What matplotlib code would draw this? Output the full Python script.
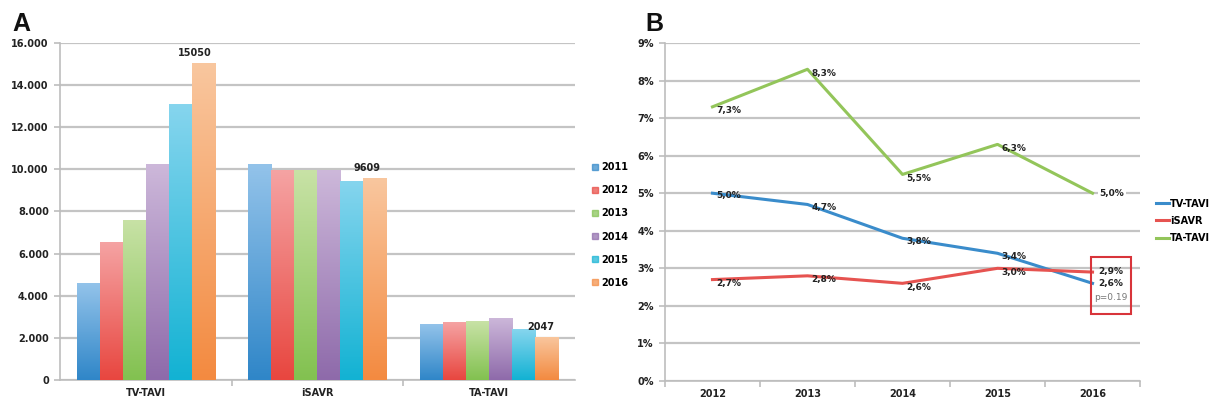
import numpy as np
import matplotlib.pyplot as plt
from matplotlib.lines import Line2D
from matplotlib.patches import Rectangle
from matplotlib.colors import LinearSegmentedColormap

# panel A data
procedures = ['TV-TAVI', 'iSAVR', 'TA-TAVI']
years_a = ['2011', '2012', '2013', '2014', '2015', '2016']
counts_2011 = [4600, 10250, 2650]
counts_2012 = [6550, 9950, 2750]
counts_2013 = [7600, 9950, 2800]
counts_2014 = [10250, 9950, 2950]
counts_2015 = [13100, 9450, 2400]
counts_2016 = [15050, 9609, 2047]
a_yticks = [0, 2000, 4000, 6000, 8000, 10000, 12000, 14000, 16000]
a_yticklabels = ['0', '2.000', '4.000', '6.000', '8.000', '10.000', '12.000', '14.000', '16.000']

# panel B data
years_b = ['2012', '2013', '2014', '2015', '2016']
mort_tv = [5.0, 4.7, 3.8, 3.4, 2.6]
mort_isavr = [2.7, 2.8, 2.6, 3.0, 2.9]
mort_ta = [7.3, 8.3, 5.5, 6.3, 5.0]

# bar colours: (dark bottom, light top)
bar_cols = [('#2f86c8', '#93c3ea'), ('#e8463f', '#f5a3a3'), ('#82c150', '#c8e2a6'),
            ('#8e6aaa', '#cdb8da'), ('#12b2d3', '#86d5ee'), ('#f38a40', '#f9c79f')]
line_cols = {'TV-TAVI': '#3a8ccb', 'iSAVR': '#e65350', 'TA-TAVI': '#93c55a'}
grid_col = '#c4c4c4'
txt_col = '#222222'

fig = plt.figure(figsize=(12.21, 4.09), dpi=100)
ax_a = fig.add_axes([0.0491, 0.0709, 0.4218, 0.824])
ax_b = fig.add_axes([0.5446, 0.0685, 0.3891, 0.8264])

# ---- panel A ----
all_counts = [counts_2011, counts_2012, counts_2013, counts_2014, counts_2015, counts_2016]
x = np.arange(len(procedures))
w = 0.134
grad = np.linspace(0, 1, 256).reshape(-1, 1)
for i, vals in enumerate(all_counts):
    offs = x + (i - 2.5) * w
    bars = ax_a.bar(offs, vals, width=w, color=bar_cols[i][0], zorder=2, label=years_a[i])
    cmap = LinearSegmentedColormap.from_list('g%d' % i, [bar_cols[i][0], bar_cols[i][1]])
    for b in bars:
        im = ax_a.imshow(grad, cmap=cmap, aspect='auto', origin='lower', zorder=3,
                         extent=(b.get_x(), b.get_x() + b.get_width(), 0, b.get_height()))
        im.set_clip_path(b)

ax_a.set_xlim(-0.5, 2.5)
ax_a.set_ylim(0, 16000)
ax_a.set_yticks(a_yticks)
ax_a.set_yticklabels(a_yticklabels)
ax_a.set_xticks(x)
ax_a.set_xticklabels(procedures)
ax_a.set_xticks([0.5, 1.5], minor=True)
ax_a.yaxis.grid(True, color=grid_col, lw=1.6, zorder=0)
ax_a.set_axisbelow(True)

# value labels on 2016 bars
ax_a.annotate('15050', (x[0] + 2.5 * w, counts_2016[0]), xytext=(-6, 5), textcoords='offset points',
              ha='center', fontsize=7, fontweight='bold', color=txt_col)
ax_a.annotate('9609', (x[1] + 2.5 * w, counts_2016[1]), xytext=(-6, 5), textcoords='offset points',
              ha='center', fontsize=7, fontweight='bold', color=txt_col)
ax_a.annotate('2047', (x[2] + 2.5 * w, counts_2016[2]), xytext=(-4, 5), textcoords='offset points',
              ha='center', fontsize=7, fontweight='bold', color=txt_col)

handles = [Line2D([], [], marker='s', ls='', ms=4, color=bar_cols[i][0], alpha=0.7) for i in range(6)]
fig.legend(handles, years_a, loc='upper left', bbox_to_anchor=(0.478, 0.625), frameon=False,
           fontsize=7, handlelength=0.6, handletextpad=0.3, labelspacing=1.35,
           prop={'weight': 'bold', 'size': 7})

# ---- panel B ----
xb = np.arange(len(years_b))
ax_b.plot(xb, mort_tv, color=line_cols['TV-TAVI'], lw=2.2, label='TV-TAVI', zorder=3)
ax_b.plot(xb, mort_isavr, color=line_cols['iSAVR'], lw=2.2, label='iSAVR', zorder=3)
ax_b.plot(xb, mort_ta, color=line_cols['TA-TAVI'], lw=2.2, label='TA-TAVI', zorder=3)

def pct(v):
    return ('%.1f%%' % v).replace('.', ',')

for i in range(4):
    ax_b.annotate(pct(mort_tv[i]), (xb[i], mort_tv[i]), xytext=(3, -2), textcoords='offset points',
                  ha='left', va='center', fontsize=6.5, fontweight='bold', color=txt_col, zorder=4)
    ax_b.annotate(pct(mort_isavr[i]), (xb[i], mort_isavr[i]), xytext=(3, -3), textcoords='offset points',
                  ha='left', va='center', fontsize=6.5, fontweight='bold', color=txt_col, zorder=4)
for i in range(4):
    ax_b.annotate(pct(mort_ta[i]), (xb[i], mort_ta[i]), xytext=(3, -3), textcoords='offset points',
                  ha='left', va='center', fontsize=6.5, fontweight='bold', color=txt_col, zorder=4)
ax_b.annotate(pct(mort_ta[4]), (xb[4], mort_ta[4]), xytext=(5, 0), textcoords='offset points',
              ha='left', va='center', fontsize=6.5, fontweight='bold', color=txt_col, zorder=4,
              bbox=dict(fc='white', ec='none', pad=1))

# boxed final values
ax_b.add_patch(Rectangle((3.98, 1.78), 0.43, 1.52, fill=False, ec='#d8343a', lw=1.5, zorder=5, clip_on=False))
ax_b.text(4.195, 2.92, pct(mort_isavr[4]), ha='center', va='center', fontsize=6.5, fontweight='bold', color=txt_col, zorder=6)
ax_b.text(4.195, 2.6, pct(mort_tv[4]), ha='center', va='center', fontsize=6.5, fontweight='bold', color=txt_col, zorder=6)
ax_b.text(4.195, 2.22, 'p=0.19', ha='center', va='center', fontsize=6.5, color='#777777', zorder=6)

ax_b.set_xlim(-0.5, 4.5)
ax_b.set_ylim(0, 9)
ax_b.set_yticks(range(10))
ax_b.set_yticklabels(['%d%%' % v for v in range(10)])
ax_b.set_xticks(xb)
ax_b.set_xticklabels(years_b)
ax_b.set_xticks(np.arange(-0.5, 4.6, 1), minor=True)
ax_b.yaxis.grid(True, color=grid_col, lw=1.6, zorder=0)
ax_b.set_axisbelow(True)

ax_b.legend(loc='upper left', bbox_to_anchor=(0.94, 0.536), bbox_transform=fig.transFigure, frameon=False,
            handlelength=1.3, handletextpad=0.1, labelspacing=0.75, prop={'weight': 'bold', 'size': 7})

for ax in (ax_a, ax_b):
    for s in ('top', 'right'):
        ax.spines[s].set_visible(False)
    for s in ('left', 'bottom'):
        ax.spines[s].set_color('#bdbdbd')
        ax.spines[s].set_linewidth(1.2)
    ax.tick_params(axis='both', which='major', length=0, labelsize=7, colors=txt_col, pad=6)
    ax.tick_params(axis='x', which='minor', length=4, color='#bdbdbd', width=1.2)
    ax.tick_params(axis='y', which='major', length=4, color='#bdbdbd', width=1.2, pad=4)
    for lab in ax.get_xticklabels() + ax.get_yticklabels():
        lab.set_fontweight('bold')

fig.text(0.0098, 0.924, 'A', fontsize=18, fontweight='bold', color='#111111', family='Liberation Sans')
fig.text(0.5285, 0.924, 'B', fontsize=18, fontweight='bold', color='#111111', family='Liberation Sans')

fig.savefig('out.png', dpi=100)
